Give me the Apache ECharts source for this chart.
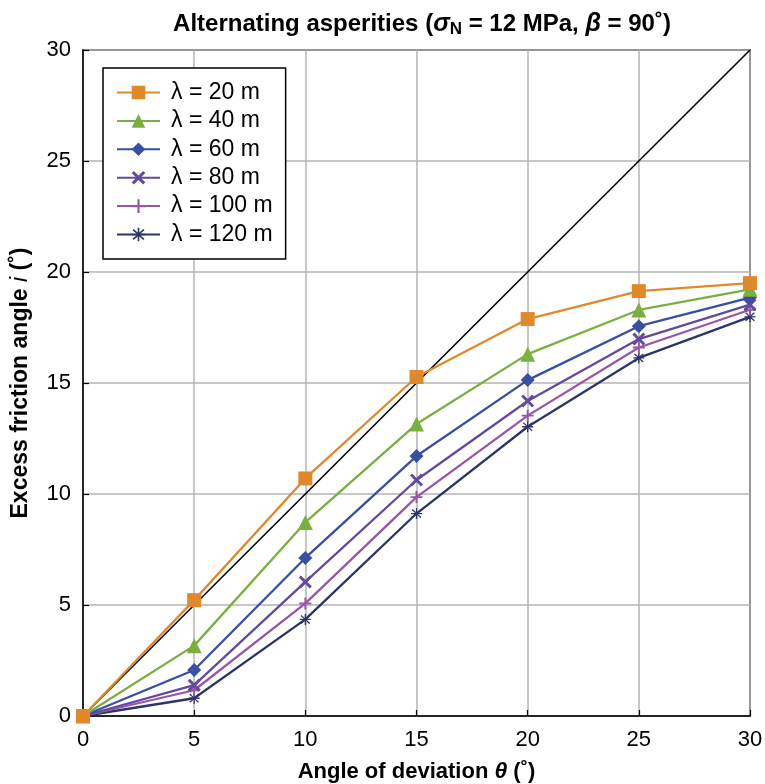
<!DOCTYPE html>
<html>
<head>
<meta charset="utf-8">
<script src="https://cdn.jsdelivr.net/npm/echarts@6/dist/echarts.min.js"></script>
<style>html,body{margin:0;padding:0;background:#fff;}#c{width:765px;height:784px;}</style>
</head>
<body>
<div id="c"></div>
<script>
// Data
const theta = [0, 5, 10, 15, 20, 25, 30];
const seriesNames = ['λ = 20 m', 'λ = 40 m', 'λ = 60 m', 'λ = 80 m', 'λ = 100 m', 'λ = 120 m'];
const lam20  = [0, 5.22, 10.70, 15.27, 17.88, 19.14, 19.50];
const lam40  = [0, 3.17, 8.72, 13.15, 16.30, 18.29, 19.22];
const lam60  = [0, 2.07, 7.12, 11.71, 15.13, 17.56, 18.85];
const lam80  = [0, 1.39, 6.04, 10.63, 14.19, 16.98, 18.53];
const lam100 = [0, 1.16, 5.07, 9.86, 13.53, 16.60, 18.30];
const lam120 = [0, 0.80, 4.35, 9.12, 13.03, 16.13, 17.98];
const refLine = [[0, 0], [30, 30]];
const xTicks = [0, 5, 10, 15, 20, 25, 30];
const yTicks = [0, 5, 10, 15, 20, 25, 30];

const FONT = 'Liberation Sans, Arial, sans-serif';
const colors = ['#E0892C', '#7BAF42', '#3A4FA0', '#634A9E', '#9A56A6', '#2C3568'];
const symX = 'path://M0,1.6 L1.6,0 L5,3.4 L8.4,0 L10,1.6 L6.6,5 L10,8.4 L8.4,10 L5,6.6 L1.6,10 L0,8.4 L3.4,5 Z';
const symPlus = 'path://M4.2,0 H5.8 V4.2 H10 V5.8 H5.8 V10 H4.2 V5.8 H0 V4.2 H4.2 Z';
const symStar = 'path://M4.4,0 H5.6 V3.6 L8.6,0.9 L9.4,1.8 L6.3,4.4 H10 V5.6 H6.3 L9.4,8.2 L8.6,9.1 L5.6,6.4 V10 H4.4 V6.4 L1.4,9.1 L0.6,8.2 L3.7,5.6 H0 V4.4 H3.7 L0.6,1.8 L1.4,0.9 L4.4,3.6 Z';
const symbols = ['rect', 'triangle', 'diamond', symX, symPlus, symStar];
const sizes = [14, 15, 14, 13, 12, 11];
const values = [lam20, lam40, lam60, lam80, lam100, lam120];

const series = values.map((v, i) => ({
  name: seriesNames[i],
  type: 'line',
  data: theta.map((t, j) => [t, v[j]]),
  symbol: symbols[i],
  symbolSize: sizes[i],
  showAllSymbol: true,
  color: colors[i],
  lineStyle: { width: 2.3, color: colors[i] },
  itemStyle: { color: colors[i] },
  z: 10 - i
}));
series.unshift({
  name: 'ref',
  type: 'line',
  data: refLine,
  symbol: 'none',
  lineStyle: { width: 1.6, color: '#000' },
  color: '#000',
  z: 3,
  silent: true
});

const chart = echarts.init(document.getElementById('c'), null, { renderer: 'canvas' });
chart.setOption({
  animation: false,
  backgroundColor: '#fff',
  title: {
    text: '{a|Alternating asperities (}{i|σ}{s|N}{a| = 12 MPa, }{i|β}{a| = 90˚)}',
    left: 417,
    textAlign: 'center',
    top: 5,
    textStyle: {
      rich: {
        a: { fontFamily: FONT, fontWeight: 'bold', fontSize: 24, color: '#000' },
        i: { fontFamily: FONT, fontWeight: 'bold', fontStyle: 'italic', fontSize: 25, color: '#000' },
        s: { fontFamily: FONT, fontWeight: 'bold', fontSize: 17, color: '#000', padding: [11, 0, 0, 0] }
      }
    }
  },
  legend: {
    data: seriesNames,
    orient: 'vertical',
    left: 103,
    top: 68,
    padding: [13, 13, 13, 13],
    itemWidth: 43,
    itemHeight: 17,
    itemGap: 5.4,
    borderColor: '#000',
    borderWidth: 1.5,
    backgroundColor: '#fff',
    borderRadius: 0,
    textStyle: { fontFamily: FONT, fontSize: 23, color: '#000', lineHeight: 22, padding: [0, 0, 0, 6] }
  },
  grid: {
    left: 83, right: 15, top: 50, bottom: 68,
    outerBoundsMode: 'none',
    containLabel: false,
    show: true, borderColor: '#000', borderWidth: 1.5, backgroundColor: 'transparent'
  },
  xAxis: {
    type: 'value',
    min: 0, max: 30, interval: 5,
    name: '{b|Angle of deviation }{i|θ}{b| (˚)}',
    nameLocation: 'middle',
    nameGap: 44,
    nameTextStyle: {
      rich: {
        b: { fontFamily: FONT, fontWeight: 'bold', fontSize: 22, color: '#000' },
        i: { fontFamily: FONT, fontWeight: 'bold', fontStyle: 'italic', fontSize: 23, color: '#000' }
      }
    },
    axisLine: { show: true, lineStyle: { color: '#000', width: 1.5 } },
    axisTick: { show: true, inside: true, length: 6, lineStyle: { color: '#000', width: 1.2 } },
    axisLabel: { fontFamily: FONT, fontSize: 22, color: '#000', margin: 13, formatter: v => xTicks.includes(v) ? String(v) : '' },
    splitLine: { show: true, lineStyle: { color: '#b4b4b4', width: 1.5 } }
  },
  yAxis: {
    type: 'value',
    min: 0, max: 30, interval: 5,
    name: '{b|Excess friction angle }{i|i}{b| (˚)}',
    nameLocation: 'middle',
    nameGap: 51,
    nameRotate: 90,
    nameTextStyle: {
      rich: {
        b: { fontFamily: FONT, fontWeight: 'bold', fontSize: 23, color: '#000' },
        i: { fontFamily: FONT, fontStyle: 'italic', fontSize: 23, color: '#000' }
      }
    },
    axisLine: { show: true, lineStyle: { color: '#000', width: 1.5 } },
    axisTick: { show: true, inside: true, length: 6, lineStyle: { color: '#000', width: 1.2 } },
    axisLabel: { fontFamily: FONT, fontSize: 22, color: '#000', margin: 12, formatter: v => yTicks.includes(v) ? String(v) : '' },
    splitLine: { show: true, lineStyle: { color: '#b4b4b4', width: 1.5 } }
  },
  series: series
});
</script>
</body>
</html>
